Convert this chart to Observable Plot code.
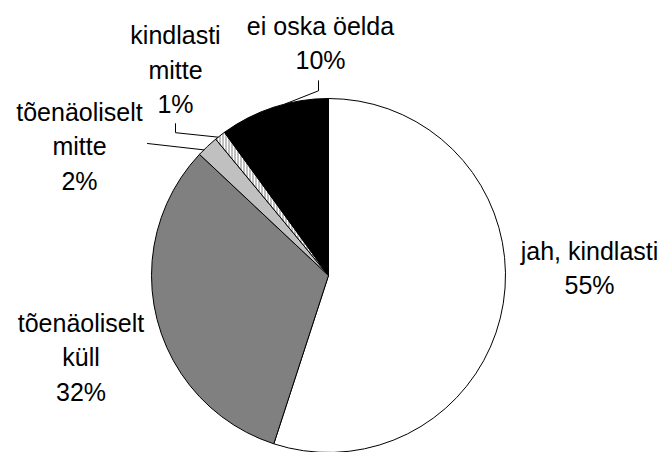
<!DOCTYPE html>
<html>
<head>
<meta charset="utf-8">
<script src="https://cdn.jsdelivr.net/npm/d3@7"></script>
<script src="https://cdn.jsdelivr.net/npm/@observablehq/plot@0.6"></script>
<style>
  html, body { margin: 0; padding: 0; background: #ffffff; }
  #chart { width: 665px; height: 452px; }
</style>
</head>
<body>
<div id="chart"></div>
<script>
// ---- data ----
const categories = ["jah, kindlasti", "tõenäoliselt küll", "tõenäoliselt mitte", "kindlasti mitte", "ei oska öelda"];
const values = [55, 32, 2, 1, 10];
const labelLines = [["jah, kindlasti"], ["tõenäoliselt", "küll"], ["tõenäoliselt", "mitte"], ["kindlasti", "mitte"], ["ei oska öelda"]];

// ---- styles & layout ----
const fills = {
  "jah, kindlasti": "#ffffff",
  "tõenäoliselt küll": "#808080",
  "tõenäoliselt mitte": "#c0c0c0",
  "kindlasti mitte": "url(#hatch)",
  "ei oska öelda": "#000000"
};
const W = 665, H = 452;
const cx = 328, cy = 275, R = 177;
const layout = {
  "jah, kindlasti":     {lx: 589, ly: 265.5},
  "tõenäoliselt küll":  {lx: 80.5, ly: 354.5},
  "tõenäoliselt mitte": {lx: 79, ly: 143.5, leader: [[68, -0.5]], tip: 0.28},
  "kindlasti mitte":    {lx: 175, ly: 67.2, leader: [[0, 56], [0, 65]], tip: 0.28},
  "ei oska öelda":      {lx: 320, ly: 40.3, leader: [[-2, 40], [-2, 50]], tip: 0.61}
};

const table = categories.map((c, i) => ({name: c, value: values[i], lines: labelLines[i]}));
const arcs = d3.pie().sort(null).value(d => d.value).startAngle(0).endAngle(2 * Math.PI)(table);

const pt = (a, r) => ({x: cx + r * Math.sin(a), y: cy - r * Math.cos(a)});

// slice polygons (approx. 5° segments)
const step = 5 * Math.PI / 180;
const slices = arcs.map(a => {
  const pts = [{x: cx, y: cy}];
  const n = Math.max(1, Math.ceil((a.endAngle - a.startAngle) / step));
  for (let k = 0; k <= n; k++) {
    pts.push(pt(a.startAngle + (a.endAngle - a.startAngle) * k / n, R));
  }
  pts.push({x: cx, y: cy});
  return {name: a.data.name, pts};
});

const labels = arcs.map(a => {
  const L = layout[a.data.name];
  return {x: L.lx, y: L.ly, text: [...a.data.lines, `${a.data.value}%`].join("\n")};
});

const leaders = arcs.filter(a => layout[a.data.name].leader).map(a => {
  const L = layout[a.data.name];
  const pts = L.leader.map(([dx, dy]) => ({x: L.lx + dx, y: L.ly + dy}));
  pts.push(pt(a.startAngle + (a.endAngle - a.startAngle) * L.tip, R));
  return pts;
});

const marks = [
  ...slices.map(s => Plot.line(s.pts, {x: "x", y: "y", fill: fills[s.name], stroke: "#000", strokeWidth: 1, curve: "linear"})),
  ...leaders.map(p => Plot.line(p, {x: "x", y: "y", stroke: "#000", strokeWidth: 1})),
  Plot.text(labels, {x: "x", y: "y", text: "text", fontSize: 25, lineHeight: 1.38, fill: "#000", textAnchor: "middle"})
];

const svg = Plot.plot({
  width: W,
  height: H,
  margin: 0,
  x: {type: "linear", domain: [0, W], range: [0, W], axis: null},
  y: {type: "linear", domain: [0, H], range: [0, H], axis: null},
  style: {fontFamily: "'Liberation Sans', Arial, sans-serif", background: "#ffffff", overflow: "visible"},
  marks
});

d3.select(svg).insert("defs", ":first-child").html(
  '<pattern id="hatch" patternUnits="userSpaceOnUse" width="3" height="3">' +
  '<rect width="3" height="3" fill="#ffffff"></rect>' +
  '<rect x="0" width="1" height="3" fill="#808080"></rect>' +
  '</pattern>'
);

document.getElementById("chart").appendChild(svg);
</script>
</body>
</html>
